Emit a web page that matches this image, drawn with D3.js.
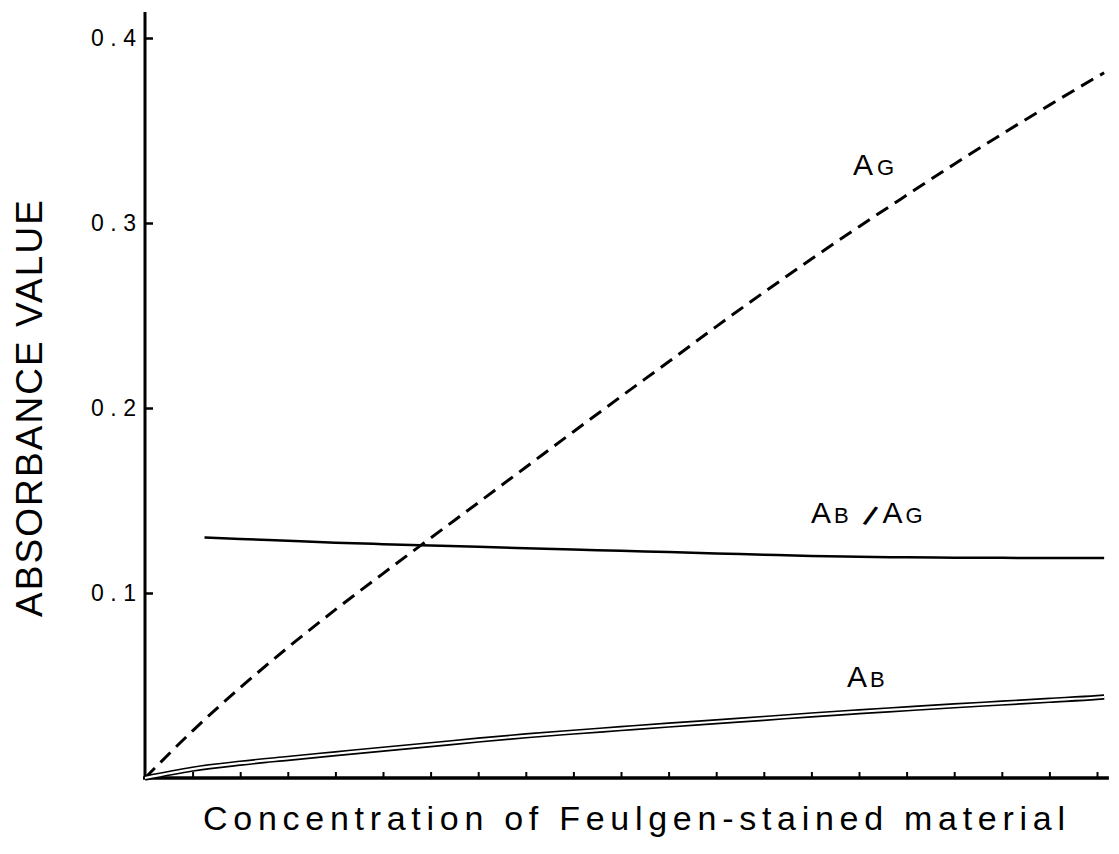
<!DOCTYPE html>
<html>
<head>
<meta charset="utf-8">
<script src="https://cdn.jsdelivr.net/npm/d3@7"></script>
<style>
  body { margin: 0; background: #fff; }
  text { font-family: "Liberation Sans", Arial, sans-serif; fill: #000; }
</style>
</head>
<body>
<svg id="chart"></svg>
<script>
// concentration steps (arbitrary units, one per x tick)
const conc = [0, 1, 2, 3, 4, 5, 6, 7, 8, 9, 10, 11, 12, 13, 14, 15, 16, 17, 18, 19, 20, 20.15];
const agValues = [0, 0.0255, 0.0488, 0.0705, 0.091, 0.1105, 0.1297, 0.1488, 0.168, 0.1872, 0.2062,
  0.225, 0.244, 0.2625, 0.2805, 0.298, 0.315, 0.3318, 0.348, 0.3637, 0.379, 0.3812];
const abValues = [0, 0.0048, 0.008, 0.0106, 0.0131, 0.0156, 0.018, 0.0205, 0.0228, 0.0248, 0.0267,
  0.0286, 0.0304, 0.0322, 0.0341, 0.0358, 0.0374, 0.039, 0.0405, 0.042, 0.0435, 0.0438];
// ratio line starts a bit right of the origin
const ratioConc = [1.25, 2, 3, 4, 5, 6, 7, 8, 9, 10, 11, 12, 13, 14, 15, 16, 17, 18, 19, 20, 20.15];
const ratioValues = [0.13, 0.1292, 0.1282, 0.1272, 0.1264, 0.1257, 0.125, 0.1242, 0.1235, 0.1228, 0.1221,
  0.1214, 0.1207, 0.12, 0.1196, 0.1193, 0.1191, 0.119, 0.1189, 0.1189, 0.1189];
const yTicks = [0.1, 0.2, 0.3, 0.4];
const xTicks = d3.range(1, 21);

const width = 1119, height = 854;

const x = d3.scaleLinear().domain([0, 20]).range([145, 1097]);
const y = d3.scaleLinear().domain([0, 0.4]).range([778, 38]);

const svg = d3.select("#chart")
    .attr("width", width)
    .attr("height", height)
    .attr("viewBox", [0, 0, width, height]);

// axes (own axis lines, d3 only for the tick marks)
const yAxis = svg.append("g")
    .attr("transform", "translate(" + x(0) + ",0)")
    .call(d3.axisRight(y).tickValues(yTicks).tickSize(8).tickFormat(""));
yAxis.select(".domain").remove();
yAxis.selectAll(".tick line").attr("stroke", "#000").attr("stroke-width", 2.5);

svg.append("line") // y axis line
    .attr("x1", x(0)).attr("x2", x(0))
    .attr("y1", 12).attr("y2", y(0))
    .attr("stroke", "#000").attr("stroke-width", 3);

const xAxis = svg.append("g")
    .attr("transform", "translate(0," + y(0) + ")")
    .call(d3.axisTop(x).tickValues(xTicks).tickSize(6).tickFormat(""));
xAxis.select(".domain").remove();
xAxis.selectAll(".tick line").attr("stroke", "#000").attr("stroke-width", 2);

svg.append("line") // x axis line
    .attr("x1", x(0) - 2).attr("x2", x(20.25))
    .attr("y1", y(0)).attr("y2", y(0))
    .attr("stroke", "#000").attr("stroke-width", 3.5);

// y tick labels
svg.selectAll("text.ylab")
    .data(yTicks)
    .join("text")
    .attr("class", "ylab")
    .attr("x", x(0) - 9)
    .attr("y", d => y(d) + 8)
    .attr("text-anchor", "end")
    .attr("textLength", 45)
    .attr("lengthAdjust", "spacing")
    .style("font-size", "23px")
    .text(d => d3.format(".1f")(d));

// axis titles
svg.append("text")
    .attr("transform", "translate(42," + 617 + ") rotate(-90)")
    .attr("textLength", 417)
    .attr("lengthAdjust", "spacing")
    .style("font-size", "37px")
    .text("ABSORBANCE VALUE");

svg.append("text")
    .attr("x", 203)
    .attr("y", 830)
    .attr("textLength", 862)
    .attr("lengthAdjust", "spacing")
    .style("font-size", "34px")
    .text("Concentration of Feulgen-stained material");

const line = d3.line()
    .x(d => x(d[0]))
    .y(d => y(d[1]))
    .curve(d3.curveMonotoneX);

// AG dashed
svg.append("path")
    .datum(d3.zip(conc, agValues))
    .attr("fill", "none")
    .attr("stroke", "#000")
    .attr("stroke-width", 3)
    .attr("stroke-dasharray", "14,8")
    .attr("d", line);

// AB/AG solid
svg.append("path")
    .datum(d3.zip(ratioConc, ratioValues))
    .attr("fill", "none")
    .attr("stroke", "#000")
    .attr("stroke-width", 2.5)
    .attr("d", line);

// AB double line: black stroke with white core
const abPath = d3.zip(conc, abValues);
svg.append("path")
    .datum(abPath)
    .attr("fill", "none")
    .attr("stroke", "#000")
    .attr("stroke-width", 5.5)
    .attr("d", line);
svg.append("path")
    .datum(abPath)
    .attr("fill", "none")
    .attr("stroke", "#fff")
    .attr("stroke-width", 2.2)
    .attr("d", line);

// curve labels: big A with small letter on same baseline
function curveLabel(px, py, parts) {
    const t = svg.append("text").attr("x", px).attr("y", py);
    parts.forEach(p => {
        const s = t.append("tspan")
            .attr("dx", p.dx || 0)
            .style("font-size", p.size + "px")
            .text(p.txt);
        if (p.rot) s.attr("rotate", p.rot).style("font-weight", "bold");
    });
}
curveLabel(853, 175, [{txt: "A", size: 30}, {txt: "G", size: 22, dx: 4}]);
curveLabel(811, 523, [{txt: "A", size: 30}, {txt: "B", size: 22, dx: 3},
    {txt: "/", size: 28, dx: 14, rot: 25}, {txt: "A", size: 30, dx: 12}, {txt: "G", size: 22, dx: 3}]);
curveLabel(847, 687, [{txt: "A", size: 30}, {txt: "B", size: 22, dx: 3}]);
</script>
</body>
</html>
